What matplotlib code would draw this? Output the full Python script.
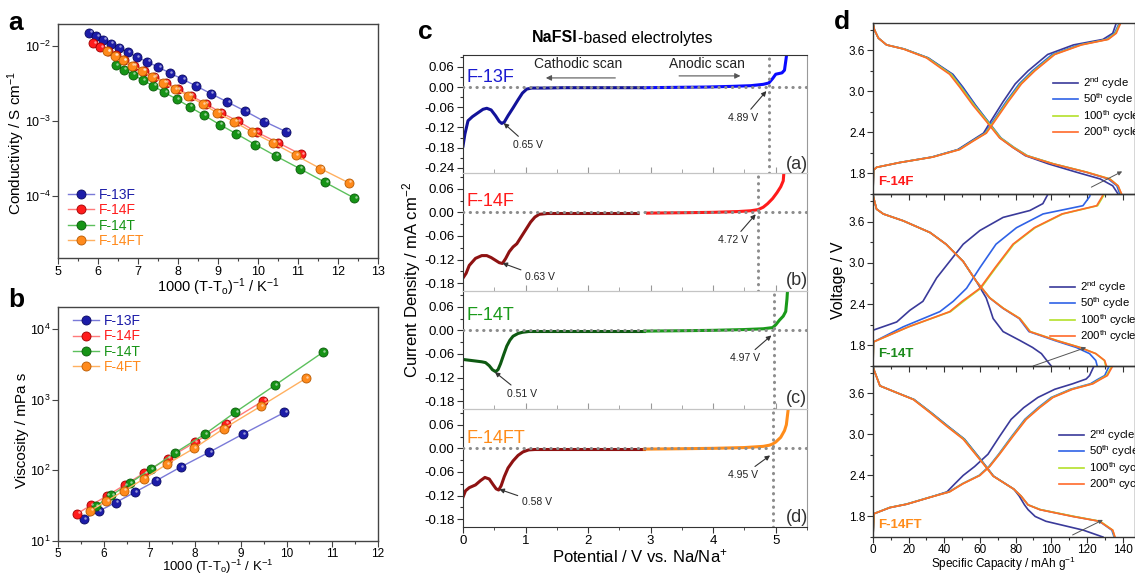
import matplotlib
matplotlib.use('Agg')
import matplotlib.pyplot as plt
from matplotlib import transforms
from matplotlib.ticker import MultipleLocator, FormatStrFormatter, NullLocator

plt.rcParams['font.family'] = ['Liberation Sans', 'DejaVu Sans']
plt.rcParams['mathtext.fontset'] = 'custom'
plt.rcParams['mathtext.rm'] = 'Liberation Sans'
plt.rcParams['mathtext.it'] = 'Liberation Sans:italic'
plt.rcParams['mathtext.bf'] = 'Liberation Sans:bold'
plt.rcParams['axes.unicode_minus'] = False

# ---------------- panel a: conductivity ----------------
cond_x_13F = [5.78, 5.96, 6.13, 6.32, 6.52, 6.74, 6.97, 7.23, 7.51, 7.79, 8.11, 8.45, 8.82, 9.23, 9.68, 10.16, 10.71]
cond_13F = [0.01507, 0.01359, 0.01213, 0.01074, 0.0095, 0.0083, 0.00713, 0.00612, 0.0052, 0.00436, 0.0036,
            0.00293, 0.00231, 0.00179, 0.00135, 0.00098, 0.000713]
cond_x_14F = [5.88, 6.06, 6.24, 6.44, 6.65, 6.90, 7.15, 7.41, 7.69, 7.99, 8.32, 8.69, 9.07, 9.50, 9.97, 10.49, 11.08]
cond_14F = [0.01086, 0.0097, 0.00857, 0.00751, 0.00644, 0.00547, 0.00469, 0.0039, 0.00324, 0.00267, 0.00216,
            0.0017, 0.00129, 0.00099, 0.000706, 0.000514, 0.000356]
cond_x_14T = [6.44, 6.65, 6.87, 7.12, 7.38, 7.66, 7.97, 8.29, 8.65, 9.04, 9.46, 9.93, 10.44, 11.04, 11.68, 12.41]
cond_14T = [0.00558, 0.00483, 0.00415, 0.00348, 0.00293, 0.00239, 0.00195, 0.00154, 0.00119, 0.000893,
            0.000671, 0.000483, 0.000341, 0.000231, 0.000151, 0.0000931]
cond_x_14FT = [6.23, 6.42, 6.63, 6.85, 7.11, 7.36, 7.63, 7.92, 8.26, 8.62, 8.98, 9.41, 9.86, 10.37, 10.94, 11.56, 12.27]
cond_14FT = [0.00849, 0.00743, 0.00644, 0.00547, 0.00469, 0.00386, 0.00324, 0.00267, 0.00216, 0.00167,
             0.00128, 0.00097, 0.000706, 0.000509, 0.000348, 0.000231, 0.000149]

# ---------------- panel b: viscosity ----------------
visc_x_13F = [5.57, 5.89, 6.26, 6.68, 7.14, 7.68, 8.31, 9.04, 9.95]
visc_13F = [20.5, 26.4, 35, 49, 71, 111, 181, 325, 659]
visc_x_14F = [5.42, 5.72, 6.07, 6.46, 6.89, 7.40, 7.99, 8.67, 9.49]
visc_14F = [24.4, 32, 43.5, 62.2, 92, 147, 248, 456, 964]
visc_x_14T = [5.83, 6.17, 6.57, 7.03, 7.55, 8.21, 8.88, 9.74, 10.79]
visc_14T = [31.3, 44.4, 65.8, 104, 175, 325, 667, 1592, 4668]
visc_x_14FT = [5.71, 6.06, 6.44, 6.88, 7.38, 7.97, 8.63, 9.44, 10.42]
visc_14FT = [26.9, 36.6, 51.2, 75.7, 122, 204, 391, 811, 2000]

names_a = ['F-13F', 'F-14F', 'F-14T', 'F-14FT']
names_b = ['F-13F', 'F-14F', 'F-14T', 'F-4FT']

# ---------------- panel c: linear sweep voltammetry ----------------
lsv_names = ['F-13F', 'F-14F', 'F-14T', 'F-14FT']
cat_x_13F = [0.0, 0.03, 0.08, 0.15, 0.25, 0.32, 0.38, 0.45, 0.52, 0.58, 0.62, 0.66, 0.72, 0.80, 0.88, 0.95,
             1.02, 1.10, 1.3, 1.6, 2.0, 2.4, 2.9]
cat_y_13F = [-0.175, -0.14, -0.10, -0.088, -0.075, -0.066, -0.063, -0.068, -0.085, -0.102, -0.108, -0.104,
             -0.085, -0.062, -0.038, -0.018, -0.006, -0.003, -0.003, -0.002, -0.002, -0.002, -0.002]
ano_x_13F = [2.9, 3.4, 3.9, 4.3, 4.6, 4.8, 4.89, 4.95, 5.0, 5.1, 5.14, 5.17, 5.19]
ano_y_13F = [-0.002, -0.001, 0.0, 0.002, 0.004, 0.008, 0.012, 0.025, 0.038, 0.042, 0.05, 0.09, 0.15]

cat_x_14F = [0.0, 0.05, 0.1, 0.2, 0.3, 0.38, 0.45, 0.52, 0.58, 0.63, 0.68, 0.74, 0.80, 0.86, 0.92, 1.0,
             1.08, 1.15, 1.22, 1.35, 1.7, 2.2, 2.8]
cat_y_14F = [-0.167, -0.155, -0.135, -0.117, -0.110, -0.110, -0.115, -0.122, -0.128, -0.130, -0.118, -0.100,
             -0.088, -0.080, -0.065, -0.045, -0.025, -0.012, -0.005, -0.003, -0.003, -0.003, -0.003]
ano_x_14F = [2.95, 3.5, 4.0, 4.4, 4.6, 4.72, 4.8, 4.87, 4.95, 5.02, 5.08, 5.12, 5.15]
ano_y_14F = [-0.002, -0.001, 0.0, 0.002, 0.004, 0.007, 0.013, 0.022, 0.035, 0.05, 0.065, 0.08, 0.14]

cat_x_14T = [0.0, 0.1, 0.2, 0.3, 0.36, 0.42, 0.47, 0.52, 0.56, 0.6, 0.65, 0.7, 0.75, 0.8, 0.88, 0.95,
             1.05, 1.2, 1.6, 2.2, 2.9]
cat_y_14T = [-0.074, -0.076, -0.078, -0.080, -0.082, -0.090, -0.100, -0.105, -0.100, -0.085, -0.062, -0.040,
             -0.025, -0.015, -0.008, -0.005, -0.003, -0.003, -0.003, -0.003, -0.003]
ano_x_14T = [2.9, 3.5, 4.0, 4.5, 4.8, 4.95, 5.0, 5.06, 5.12, 5.16, 5.18, 5.2]
ano_y_14T = [-0.002, -0.001, 0.0, 0.002, 0.004, 0.007, 0.014, 0.026, 0.036, 0.048, 0.08, 0.13]

cat_x_14FT = [0.0, 0.04, 0.1, 0.2, 0.28, 0.35, 0.42, 0.48, 0.53, 0.57, 0.61, 0.66, 0.72, 0.8, 0.88, 0.96,
              1.05, 1.15, 1.3, 1.7, 2.3, 2.9]
cat_y_14FT = [-0.124, -0.108, -0.100, -0.093, -0.082, -0.074, -0.078, -0.092, -0.103, -0.106, -0.095,
              -0.072, -0.050, -0.032, -0.018, -0.009, -0.004, -0.003, -0.003, -0.003, -0.003, -0.003]
ano_x_14FT = [2.9, 3.5, 4.0, 4.5, 4.8, 4.9, 4.95, 5.0, 5.08, 5.14, 5.17, 5.2, 5.21]
ano_y_14FT = [-0.002, -0.001, 0.0, 0.002, 0.005, 0.008, 0.011, 0.016, 0.028, 0.045, 0.06, 0.10, 0.14]

peak_v = [0.65, 0.63, 0.51, 0.58]
peak_i = [-0.107, -0.129, -0.106, -0.104]
onset_v = [4.89, 4.72, 4.97, 4.95]
panel_tags = ['(a)', '(b)', '(c)', '(d)']

# ---------------- panel d: charge/discharge profiles ----------------
cycle_labels = ['2$^{\\mathrm{nd}}$ cycle', '50$^{\\mathrm{th}}$ cycle', '100$^{\\mathrm{th}}$ cycle',
                '200$^{\\mathrm{th}}$ cycle']
cell_names = ['F-14F', 'F-14T', 'F-14FT']

# F-14F
dis_v_14F = [4.0, 3.9, 3.78, 3.68, 3.62, 3.49, 3.35, 3.25, 3.06, 2.80, 2.56, 2.32, 2.18, 2.06, 1.94, 1.82,
             1.72, 1.62, 1.5]
dis_q_14F = [
    [0.0, 0.8, 3.0, 7.6, 17.5, 31, 39, 44.8, 50.5, 57.5, 64.5, 71.3, 78.5, 85.5, 98.5, 114, 127.5, 134.5, 137.5],
    [0.0, 0.8, 3.0, 7.6, 17.5, 30.8, 38.6, 44.3, 50, 57.2, 64.6, 71.8, 79.2, 86.6, 101.2, 119.4, 132, 136.8, 138.5],
    [0.0, 0.8, 3.0, 7.6, 17.3, 30.5, 38.2, 43.8, 49.4, 56.7, 64.2, 71.5, 79, 86.5, 101.5, 120, 133, 137.5, 139.3],
    [0.0, 0.8, 3.0, 7.6, 17, 30, 37.5, 43, 48.7, 56, 63.6, 71, 78.5, 86, 101, 119.6, 132.7, 137.5, 139.5]]
chg_v_14F = [1.5, 1.85, 1.89, 1.96, 2.04, 2.15, 2.27, 2.39, 2.56, 2.85, 3.11, 3.30, 3.54, 3.68, 3.76, 3.85, 4.0]
chg_q_14F = [
    [0.0, 0.3, 2.0, 15, 33, 47.6, 54.8, 62.0, 66, 73, 79.8, 87, 98, 112.5, 129, 134.5, 136.5],
    [0.0, 0.3, 2.0, 15, 33.2, 48, 55.3, 62.8, 67.2, 74.7, 82, 89.4, 100.5, 115.5, 131, 135.5, 138.2],
    [0.0, 0.3, 2.0, 15, 33.4, 48.4, 55.7, 63.2, 67.8, 75.4, 82.8, 90.3, 101.5, 116.5, 131.5, 136, 138.7],
    [0.0, 0.3, 2.0, 15, 33.6, 48.7, 56, 63.6, 68.2, 75.9, 83.3, 90.8, 102, 117, 132, 136.5, 139]]

# F-14T
dis_v_14T = [4.0, 3.95, 3.78, 3.71, 3.61, 3.44, 3.27, 3.02, 2.73, 2.49, 2.34, 2.19, 2.0, 1.87, 1.77, 1.68,
             1.58, 1.5]
dis_q_14T = [
    [0.0, 0.3, 2, 5.8, 17, 32, 41, 50.6, 58, 63.5, 65.5, 67.4, 73, 82.5, 89.5, 94.5, 97.5, 100],
    [0.0, 0.3, 2, 5.8, 17, 32, 41, 50.6, 58, 65.4, 72.8, 82, 87.5, 102, 114, 121.5, 125, 125.8],
    [0.0, 0.3, 2, 5.8, 17, 32, 41, 50.6, 58, 65.6, 73.2, 82.5, 88.3, 103.3, 116.2, 125, 129.8, 130.6],
    [0.0, 0.3, 2, 5.8, 17, 32, 41, 50.6, 58, 65.5, 73, 82.3, 88, 103, 116, 125, 130, 131]]
chg_v_14T_2nd = [2.02, 2.14, 2.31, 2.44, 2.78, 3.02, 3.27, 3.47, 3.66, 3.76, 3.86, 4.0]
chg_q_14T_2nd = [0, 13.3, 20.7, 28, 35.7, 43, 50.6, 60, 73, 88, 95.3, 98.2]
chg_v_14T = [1.5, 1.85, 2.07, 2.29, 2.44, 2.63, 2.93, 3.27, 3.51, 3.71, 3.83, 3.96, 4.0]
chg_q_14T = [
    [0, 0.3, 17, 37.5, 45, 52.5, 60, 69, 80.5, 95.4, 117.8, 121.5, 122],
    [0, 0.3, 20, 43.5, 50.8, 60.5, 69, 79, 91, 106.5, 126, 129, 129.8],
    [0, 0.3, 20, 43, 50, 60, 68.5, 78.5, 90.5, 106, 125.5, 128.5, 129.2]]

# F-14FT
dis_v_14FT = [4.0, 3.96, 3.71, 3.61, 3.51, 3.32, 3.12, 2.93, 2.63, 2.39, 2.2, 2.1, 1.97, 1.90, 1.80, 1.73,
              1.60, 1.5]
dis_q_14FT = [
    [0, 0.3, 3.9, 13.3, 23, 32.5, 42, 51.3, 60.5, 67.6, 79, 82, 85, 87, 91, 97, 118, 129],
    [0, 0.3, 3.9, 13.3, 23, 32.5, 42, 51.3, 60.5, 67.6, 79, 83, 87, 93.8, 112.5, 127, 134, 135.3],
    [0, 0.3, 3.9, 13.3, 22.8, 32.2, 41.6, 51, 60.2, 67.5, 79, 83, 87, 94, 113, 127.5, 134.5, 135.6],
    [0, 0.3, 3.9, 13.3, 22.6, 31.9, 41.3, 50.6, 60, 67.4, 79, 83, 87, 93.5, 112, 127, 134.5, 135.8]]
chg_v_14FT = [1.5, 1.84, 1.93, 1.98, 2.08, 2.16, 2.28, 2.40, 2.53, 2.71, 2.97, 3.22, 3.39, 3.54, 3.66, 3.74,
              3.81, 3.86, 4.0]
chg_q_14FT = [
    [0, 0.5, 9.5, 19, 32, 41.5, 46, 50.6, 57, 64.5, 71, 77.5, 84.5, 92.5, 102, 112, 119.6, 121.5, 124],
    [0, 0.5, 9.2, 18.6, 31.6, 42.6, 50.2, 59.5, 65, 70.5, 77.8, 85.2, 92.6, 100, 110.8, 122, 126.5, 130, 132.5],
    [0, 0.5, 9.3, 18.8, 31.8, 42.8, 50.4, 59.8, 65.3, 70.8, 78.2, 85.7, 93.2, 100.6, 111.5, 123, 127.5, 131, 134],
    [0, 0.5, 9.5, 19, 32, 43, 50.6, 60, 65.5, 71, 78.5, 86, 93.5, 101, 112, 123.4, 128, 131.5, 134.5]]

# ---------------- figure ----------------
W, H = 1135, 573
fig = plt.figure(figsize=(W / 100, H / 100), dpi=100)


def box(l, t, r, b):
    return [l / W, 1 - b / H, (r - l) / W, (b - t) / H]


def style_box(ax):
    for s in ax.spines.values():
        s.set_color('#444444')
        s.set_linewidth(1.0)
    ax.tick_params(which='both', direction='out', labelsize=9, color='#444444', width=0.8, pad=1.5)
    ax.tick_params(which='major', length=4)
    ax.tick_params(which='minor', length=2)
    ax.tick_params(top=False, right=False)


ser_col = ['#1c1ca8', '#ff1c1c', '#169416', '#ff8a1c']
ser_edge = ['#0a0a60', '#a00000', '#0a5a0a', '#b85a00']
ser_line = ['#7a7ad8', '#ff7a7a', '#5cc05c', '#ffb060']


def sphere_plot(ax, xs, ys, k, lab):
    ax.plot(xs, ys, '-o', color=ser_line[k], lw=1.0, ms=6.5, mfc=ser_col[k], mec=ser_edge[k], mew=0.6,
            label=lab, zorder=2)
    hl = transforms.offset_copy(ax.transData, fig=fig, x=1.0, y=1.0, units='points')
    ax.plot(xs, ys, 'o', ms=1.8, color='white', alpha=0.55, mew=0, transform=hl, zorder=3)


xlab_ab = '1000 (T-T$_\\mathrm{o}$)$^{-1}$ / K$^{-1}$'

# panel a
ax_a = fig.add_axes(box(58, 24, 378, 258))
for k, (xs, ys) in enumerate([(cond_x_13F, cond_13F), (cond_x_14F, cond_14F),
                              (cond_x_14T, cond_14T), (cond_x_14FT, cond_14FT)]):
    sphere_plot(ax_a, xs, ys, k, names_a[k])
ax_a.set_yscale('log')
ax_a.set_xlim(5, 13)
ax_a.set_ylim(1.48e-5, 0.0196)
ax_a.xaxis.set_major_locator(MultipleLocator(1))
ax_a.xaxis.set_minor_locator(MultipleLocator(0.5))
ax_a.yaxis.set_minor_locator(NullLocator())
style_box(ax_a)
fig.text(218 / W, 1 - 287 / H, xlab_ab, fontsize=10.5, ha='center', va='center')
fig.text(16 / W, 1 - 143 / H, 'Conductivity / S cm$^{-1}$', fontsize=11, rotation=90, ha='center', va='center')
ax_a.legend(loc='lower left', bbox_to_anchor=(68 / W, 1 - 248 / H), bbox_transform=fig.transFigure,
            frameon=False, fontsize=10, handlelength=1.9, handletextpad=0.3, labelspacing=0.1,
            borderpad=0, borderaxespad=0, labelcolor='markerfacecolor')

# panel b
ax_b = fig.add_axes(box(58, 307, 378, 541))
for k, (xs, ys) in enumerate([(visc_x_13F, visc_13F), (visc_x_14F, visc_14F),
                              (visc_x_14T, visc_14T), (visc_x_14FT, visc_14FT)]):
    sphere_plot(ax_b, xs, ys, k, names_b[k])
ax_b.set_yscale('log')
ax_b.set_xlim(5, 12)
ax_b.set_ylim(10, 2.05e4)
ax_b.xaxis.set_major_locator(MultipleLocator(1))
ax_b.xaxis.set_minor_locator(MultipleLocator(0.5))
ax_b.yaxis.set_minor_locator(NullLocator())
style_box(ax_b)
ax_b.tick_params(axis='x', labelsize=8.5, pad=1)
fig.text(218 / W, 1 - 567 / H, xlab_ab, fontsize=9.5, ha='center', va='center')
fig.text(22 / W, 1 - 430 / H, 'Viscosity / mPa s', fontsize=11, rotation=90, ha='center', va='center')
ax_b.legend(loc='upper left', bbox_to_anchor=(73 / W, 1 - 314 / H), bbox_transform=fig.transFigure,
            frameon=False, fontsize=10, handlelength=1.9, handletextpad=0.3, labelspacing=0.1,
            borderpad=0, borderaxespad=0, labelcolor='markerfacecolor')

# panel c
cat_data = [(cat_x_13F, cat_y_13F), (cat_x_14F, cat_y_14F), (cat_x_14T, cat_y_14T), (cat_x_14FT, cat_y_14FT)]
ano_data = [(ano_x_13F, ano_y_13F), (ano_x_14F, ano_y_14F), (ano_x_14T, ano_y_14T), (ano_x_14FT, ano_y_14FT)]
cat_col = ['#12129a', '#8e1212', '#0e5a12', '#8e1212']
ano_col = ['#0a0aff', '#ff1a1a', '#1a9a1a', '#ff8c1a']
name_col = ['#1a1ad0', '#ff1a1a', '#1a9a1a', '#ff8c1a']
name_y = [0.027, 0.028, 0.038, 0.025]
tag_y = [-0.229, -0.173, -0.173, -0.175]
peak_txt = [(1.04, -0.172), (1.23, -0.164), (0.94, -0.161), (1.18, -0.137)]
onset_txt = [(4.48, -0.092), (4.32, -0.071), (4.51, -0.071), (4.48, -0.068)]
onset_tip = [-0.012, -0.005, -0.013, -0.018]
dot = dict(color='#8c8c8c', lw=2.2, linestyle=(0, (0.1, 2.1)), dash_capstyle='round')
arrow_kw = dict(arrowstyle='-|>', color='#333333', lw=0.8, mutation_scale=7, shrinkA=1, shrinkB=0)

c_tops = [55, 173, 291, 409]
axes_c = []
for i in range(4):
    ax = fig.add_axes(box(463, c_tops[i], 807, c_tops[i] + 118))
    ax.patch.set_visible(False)
    ax.plot(*cat_data[i], color=cat_col[i], lw=2.2, zorder=2)
    ax.plot(*ano_data[i], color=ano_col[i], lw=2.2, zorder=2)
    ax.axhline(0, zorder=3, **dot)
    ax.axvline(onset_v[i], zorder=3, **dot)
    ax.set_xlim(0, 5.5)
    if i == 0:
        ax.set_ylim(-0.255, 0.095)
        ax.set_yticks([-0.24, -0.18, -0.12, -0.06, 0.0, 0.06])
    else:
        ax.set_ylim(-0.2, 0.1)
        ax.set_yticks([-0.18, -0.12, -0.06, 0.0, 0.06])
    ax.yaxis.set_minor_locator(MultipleLocator(0.03))
    ax.yaxis.set_major_formatter(FormatStrFormatter('%.2f'))
    ax.xaxis.set_major_locator(MultipleLocator(1))
    ax.xaxis.set_minor_locator(MultipleLocator(0.5))
    ax.tick_params(axis='y', which='both', direction='out', labelsize=9.5, color='#333333', width=0.8, pad=2)
    ax.tick_params(axis='y', which='major', length=4)
    ax.tick_params(axis='y', which='minor', length=2)
    ax.spines['left'].set_color('#333333')
    ax.spines['right'].set_color('#999999')
    ax.spines['top'].set_color('#333333' if i == 0 else '#c4c4c4')
    ax.spines['bottom'].set_color('#333333' if i == 3 else '#c4c4c4')
    if i < 3:
        ax.tick_params(axis='x', which='both', direction='in', color='#999999', labelbottom=False)
        ax.tick_params(axis='x', which='major', length=4)
        ax.tick_params(axis='x', which='minor', length=3)
    else:
        ax.tick_params(axis='x', which='both', direction='out', color='#333333', labelsize=9.5, pad=2)
        ax.tick_params(axis='x', which='major', length=4)
        ax.tick_params(axis='x', which='minor', length=2)
    ax.text(0.06, name_y[i], lsv_names[i], color=name_col[i], fontsize=13, ha='left', va='center')
    ax.annotate('%.2f V' % peak_v[i], xy=(peak_v[i], peak_i[i]), xytext=peak_txt[i], fontsize=7.5,
                ha='center', va='center', color='#222222', arrowprops=arrow_kw)
    ax.annotate('%.2f V' % onset_v[i], xy=(onset_v[i] - 0.04, onset_tip[i]), xytext=onset_txt[i],
                fontsize=7.5, ha='center', va='center', color='#222222', arrowprops=arrow_kw)
    ax.text(5.16, tag_y[i], panel_tags[i], fontsize=13, ha='left', va='center', color='#333333',
            clip_on=True)
    axes_c.append(ax)

ax_c1 = axes_c[0]
ax_c1.text(1.84, 0.068, 'Cathodic scan', fontsize=10, ha='center', va='center', color='#222222')
ax_c1.annotate('', xy=(1.28, 0.027), xytext=(2.48, 0.027),
               arrowprops=dict(arrowstyle='-|>', color='#555555', lw=0.8, mutation_scale=8))
ax_c1.text(3.9, 0.068, 'Anodic scan', fontsize=10, ha='center', va='center', color='#222222')
ax_c1.annotate('', xy=(4.48, 0.033), xytext=(3.41, 0.033),
               arrowprops=dict(arrowstyle='-|>', color='#555555', lw=0.8, mutation_scale=8))
fig.text(640 / W, 1 - 556 / H, 'Potential / V vs. Na/Na$^{+}$', fontsize=12, ha='center', va='center')
fig.text(412 / W, 1 - 280 / H, 'Current Density / mA cm$^{-2}$', rotation=90, fontsize=12,
         ha='center', va='center')
fig.text(578 / W, 1 - 38 / H, 'NaFSI', fontsize=11.5, weight='bold', ha='right', va='center')
fig.text(578 / W, 1 - 38 / H, '-based electrolytes', fontsize=11.5, ha='left', va='center')

# panel d
cyc_col = ['#3a3a9a', '#2f62e6', '#b4e02a', '#ff6a2a']
cell_col = ['#ff1a1a', '#1a8a1a', '#ff8c1a']
dis_sets = [(dis_v_14F, dis_q_14F), (dis_v_14T, dis_q_14T), (dis_v_14FT, dis_q_14FT)]
leg_pos = [(1053, 75), (1050, 279), (1059, 427)]
arrow_d = [((122.5, 1.60), (139.8, 1.83)), ((89.8, 1.5), (119.6, 1.77)), ((112, 1.53), (129, 1.75))]

d_tops = [23, 194, 366]
d_h = [171, 172, 171]
for i in range(3):
    ax = fig.add_axes(box(873, d_tops[i], 1135, d_tops[i] + d_h[i]))
    ax.patch.set_visible(False)
    dv, dq = dis_sets[i]
    handles = []
    for k in range(4):
        if i == 0:
            cv, cq = chg_v_14F, chg_q_14F[k]
        elif i == 1:
            if k == 0:
                cv, cq = chg_v_14T_2nd, chg_q_14T_2nd
            else:
                cv, cq = chg_v_14T, chg_q_14T[k - 1]
        else:
            cv, cq = chg_v_14FT, chg_q_14FT[k]
        ln, = ax.plot(dq[k], dv, color=cyc_col[k], lw=1.2, label=cycle_labels[k])
        ax.plot(cq, cv, color=cyc_col[k], lw=1.2)
        handles.append(ln)
    ax.set_xlim(0, 147)
    ax.set_ylim(1.5, 4.0)
    ax.yaxis.set_major_locator(MultipleLocator(0.6))
    ax.yaxis.set_minor_locator(MultipleLocator(0.3))
    ax.yaxis.set_major_formatter(FormatStrFormatter('%.1f'))
    ax.xaxis.set_major_locator(MultipleLocator(20))
    ax.xaxis.set_minor_locator(MultipleLocator(10))
    for s in ax.spines.values():
        s.set_color('#333333')
        s.set_linewidth(1.0)
    ax.tick_params(which='both', direction='out', labelsize=8.5, color='#333333', width=0.8, pad=1.5)
    ax.tick_params(which='major', length=4)
    ax.tick_params(which='minor', length=2)
    if i < 2:
        ax.tick_params(axis='x', labelbottom=False)
    else:
        ax.tick_params(axis='x', pad=1)
    ax.text(3, 1.68, cell_names[i], color=cell_col[i], fontsize=9.5, weight='bold', ha='left', va='center')
    ax.annotate('', xy=arrow_d[i][1], xytext=arrow_d[i][0],
                arrowprops=dict(arrowstyle='-|>', color='#555555', lw=0.7, mutation_scale=6,
                                shrinkA=0, shrinkB=0))
    lx, ly = leg_pos[i]
    ax.legend(handles=handles, loc='upper left', bbox_to_anchor=(lx / W, 1 - ly / H),
              bbox_transform=fig.transFigure, frameon=False, fontsize=8.2, handlelength=2.2,
              handletextpad=0.4, labelspacing=0.05, borderpad=0, borderaxespad=0)
fig.text(1004 / W, 1 - 564 / H, 'Specific Capacity / mAh g$^{-1}$', fontsize=8.5, ha='center', va='center')
fig.text(838 / W, 1 - 280 / H, 'Voltage / V', rotation=90, fontsize=11.5, ha='center', va='center')

# panel letters
for letter, (px, py) in zip('abcd', [(16, 23), (16, 300), (425, 32), (842, 22)]):
    fig.text(px / W, 1 - py / H, letter, fontsize=19, weight='bold', ha='center', va='center')

fig.savefig('out.png', dpi=100)
